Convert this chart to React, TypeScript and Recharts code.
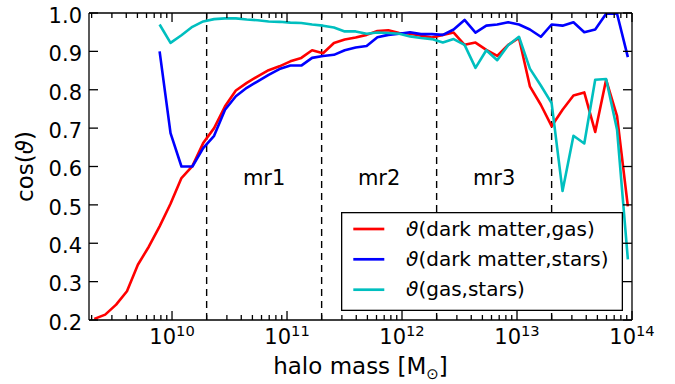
import React from 'react';
import { LineChart, Line, XAxis, YAxis, ReferenceLine, ReferenceDot, Legend } from 'recharts';

// log10 of halo mass [M_sun] at each bin
const logMass = [
  9.324, 9.419, 9.514, 9.608, 9.703, 9.798, 9.892, 9.987, 10.082, 10.177,
  10.271, 10.366, 10.461, 10.555, 10.65, 10.745, 10.84, 10.934, 11.029, 11.124,
  11.218, 11.313, 11.408, 11.502, 11.597, 11.692, 11.786, 11.881, 11.976, 12.07,
  12.165, 12.26, 12.355, 12.449, 12.544, 12.639, 12.733, 12.828, 12.923, 13.017,
  13.112, 13.207, 13.301, 13.396, 13.491, 13.585, 13.68, 13.775, 13.87, 13.964,
];

const dmGas = [
  0.203, 0.214, 0.24, 0.275, 0.344, 0.391, 0.444, 0.503, 0.57, 0.601,
  0.661, 0.7, 0.757, 0.798, 0.818, 0.835, 0.851, 0.861, 0.874, 0.883,
  0.903, 0.895, 0.922, 0.931, 0.936, 0.943, 0.953, 0.955, 0.948, 0.946,
  0.941, 0.936, 0.943, 0.949, 0.917, 0.923, 0.904, 0.888, 0.917, 0.935,
  0.809, 0.761, 0.705, 0.748, 0.785, 0.793, 0.69, 0.826, 0.731, 0.496,
];

const dmStars = [
  null, null, null, null, null, null, 0.9, 0.687, 0.6, 0.6,
  0.648, 0.68, 0.748, 0.783, 0.805, 0.822, 0.839, 0.854, 0.863, 0.863,
  0.883, 0.888, 0.891, 0.903, 0.91, 0.914, 0.937, 0.943, 0.946, 0.95,
  0.945, 0.945, 0.943, 0.957, 0.982, 0.949, 0.967, 0.97, 0.976, 0.97,
  0.957, 0.938, 0.97, 0.967, 0.976, 0.95, 0.957, 0.998, 0.998, 0.885,
];

const gasStars = [
  null, null, null, null, null, null, 0.97, 0.922, 0.942, 0.964,
  0.978, 0.984, 0.986, 0.986, 0.983, 0.981, 0.978, 0.977, 0.975, 0.974,
  0.97, 0.967, 0.962, 0.952, 0.952, 0.946, 0.949, 0.948, 0.946, 0.939,
  0.935, 0.932, 0.923, 0.932, 0.917, 0.857, 0.903, 0.877, 0.916, 0.938,
  0.855, 0.811, 0.765, 0.536, 0.68, 0.66, 0.826, 0.828, 0.696, 0.358,
];

const seriesKeys = ['dmGas', 'dmStars', 'gasStars'];
const seriesNames = ['ϑ(dark matter,gas)', 'ϑ(dark matter,stars)', 'ϑ(gas,stars)'];
const seriesColors = ['#ff0000', '#0000ff', '#00bfbf'];

const regionEdges = [2e10, 2e11, 2e12, 2e13];
const regionLabels = ['mr1', 'mr2', 'mr3'];
const regionLabelY = 0.553;

const yTicks = [0.2, 0.3, 0.4, 0.5, 0.6, 0.7, 0.8, 0.9, 1.0];
const yDomain = [0.2, 1.0];
const xMajorExp = [10, 11, 12, 13, 14];
const xDecades = [9, 10, 11, 12, 13];
const xMultipliers = [2, 3, 4, 5, 6, 7, 8, 9];
const xDomain = [9.278, 14];

const data = logMass.map((lm, i) => ({
  lm,
  dmGas: dmGas[i],
  dmStars: dmStars[i],
  gasStars: gasStars[i],
}));

const xTicks = [
  ...xMajorExp,
  ...xDecades.flatMap((d) => xMultipliers.map((m) => Math.round((d + Math.log10(m)) * 10000) / 10000)),
]
  .filter((t) => t >= xDomain[0] && t <= xDomain[1])
  .sort((a, b) => a - b);

const FONT = 'DejaVu Sans';
const isMajor = (v: number) => Math.abs(v - Math.round(v)) < 1e-6;

const BottomTick = (props: any) => {
  const { x, y, payload } = props;
  const v = payload.value;
  const major = isMajor(v);
  return (
    <g>
      <line x1={x} x2={x} y1={y} y2={y - (major ? 9 : 5)} stroke="#000" strokeWidth={1.3} />
      {major && (
        <text x={x} y={y + 24} textAnchor="middle" fontFamily={FONT} fontSize={21} fill="#000">
          10
          <tspan fontSize={14.7} dy={-8.3}>{String(Math.round(v))}</tspan>
        </text>
      )}
    </g>
  );
};

const TopTick = (props: any) => {
  const { x, y, payload } = props;
  const major = isMajor(payload.value);
  return (
    <g>
      <line x1={x} x2={x} y1={y} y2={y + (major ? 9 : 5)} stroke="#000" strokeWidth={1.3} />
    </g>
  );
};

const LeftTick = (props: any) => {
  const { x, y, payload } = props;
  return (
    <g>
      <line x1={x} x2={x + 9} y1={y} y2={y} stroke="#000" strokeWidth={1.3} />
      <text x={x - 7} y={y + 9.8} textAnchor="end" fontFamily={FONT} fontSize={21} fill="#000">
        {Number(payload.value).toFixed(1)}
      </text>
    </g>
  );
};

const RightTick = (props: any) => {
  const { x, y } = props;
  return (
    <g>
      <line x1={x} x2={x - 9} y1={y} y2={y} stroke="#000" strokeWidth={1.3} />
    </g>
  );
};

const ThetaText = ({ name }: { name: string }) => (
  <>
    <tspan fontStyle="italic">{name.charAt(0)}</tspan>
    {name.slice(1)}
  </>
);

const LegendBox = (props: any) => {
  const payload = props.payload && props.payload.length ? props.payload : seriesNames.map((n, i) => ({ value: n, color: seriesColors[i] }));
  const rows = [17, 47.3, 77.7];
  return (
    <svg width={282} height={99} style={{ display: 'block' }}>
      <rect x={0.65} y={0.65} width={280.7} height={97.7} fill="#fff" stroke="#000" strokeWidth={1.3} />
      {payload.map((p: any, i: number) => (
        <g key={i}>
          <line x1={12.3} x2={43.3} y1={rows[i]} y2={rows[i]} stroke={p.color} strokeWidth={2.7} />
          <text x={65} y={rows[i] + 6.5} fontFamily={FONT} fontSize={20} fill="#000">
            <ThetaText name={String(p.value)} />
          </text>
        </g>
      ))}
    </svg>
  );
};

const logEdges = regionEdges.map((e) => Math.log10(e));

export default function App() {
  return (
    <div style={{ position: 'absolute', left: 0, top: 0, width: 675, height: 384, background: '#fff' }}>
      <LineChart width={675} height={384} data={data} margin={{ top: 0, right: 0, bottom: 0, left: 0 }}>
        <XAxis
          dataKey="lm"
          type="number"
          domain={xDomain}
          allowDataOverflow
          ticks={xTicks}
          interval={0}
          height={64}
          tickLine={false}
          tickSize={0}
          tickMargin={0}
          tick={<BottomTick />}
          axisLine={{ stroke: '#000', strokeWidth: 1.3 }}
          label={(p: any) => {
            const vb = p.viewBox;
            return (
              <text x={vb.x + vb.width / 2} y={373.5} textAnchor="middle" fontFamily={FONT} fontSize={23} fill="#000">
                halo mass [M
                <tspan fontSize={15} dy={5}>⊙</tspan>
                <tspan dy={-5}>]</tspan>
              </text>
            );
          }}
        />
        <XAxis
          xAxisId="top"
          dataKey="lm"
          orientation="top"
          type="number"
          domain={xDomain}
          allowDataOverflow
          ticks={xTicks}
          interval={0}
          height={13}
          tickLine={false}
          tickSize={0}
          tickMargin={0}
          tick={<TopTick />}
          axisLine={{ stroke: '#000', strokeWidth: 1.3 }}
        />
        <YAxis
          type="number"
          domain={yDomain}
          allowDataOverflow
          ticks={yTicks}
          interval={0}
          width={89}
          tickLine={false}
          tickSize={0}
          tickMargin={0}
          tick={<LeftTick />}
          axisLine={{ stroke: '#000', strokeWidth: 1.3 }}
          label={(p: any) => {
            const vb = p.viewBox;
            const cy = vb.y + vb.height / 2;
            return (
              <text x={33} y={cy} transform={`rotate(-90 33 ${cy})`} textAnchor="middle" fontFamily={FONT} fontSize={23} fill="#000">
                cos(<tspan fontStyle="italic">ϑ</tspan>)
              </text>
            );
          }}
        />
        <YAxis
          yAxisId="right"
          orientation="right"
          type="number"
          domain={yDomain}
          allowDataOverflow
          ticks={yTicks}
          interval={0}
          width={43}
          tickLine={false}
          tickSize={0}
          tickMargin={0}
          tick={<RightTick />}
          axisLine={{ stroke: '#000', strokeWidth: 1.3 }}
        />
        {logEdges.map((e, i) => (
          <ReferenceLine key={`edge${i}`} x={e} stroke="#000" strokeWidth={1.4} strokeDasharray="7 5" />
        ))}
        {regionLabels.map((lab, i) => (
          <ReferenceDot
            key={lab}
            x={(logEdges[i] + logEdges[i + 1]) / 2}
            y={regionLabelY}
            r={0}
            fill="none"
            stroke="none"
            label={(p: any) => {
              const vb = p.viewBox;
              return (
                <text x={vb.x + (vb.width || 0) / 2} y={vb.y + (vb.height || 0) / 2} textAnchor="middle" fontFamily={FONT} fontSize={21} fill="#000">
                  {lab}
                </text>
              );
            }}
          />
        ))}
        {seriesKeys.map((k, i) => (
          <Line
            key={k}
            dataKey={k}
            name={seriesNames[i]}
            stroke={seriesColors[i]}
            strokeWidth={2.6}
            strokeLinejoin="round"
            dot={false}
            activeDot={false}
            type="linear"
            isAnimationActive={false}
          />
        ))}
        <Legend
          layout="horizontal"
          verticalAlign="middle"
          align="center"
          wrapperStyle={{ position: 'absolute', left: 341, top: 212, width: 282, height: 99 }}
          content={<LegendBox />}
        />
      </LineChart>
    </div>
  );
}
